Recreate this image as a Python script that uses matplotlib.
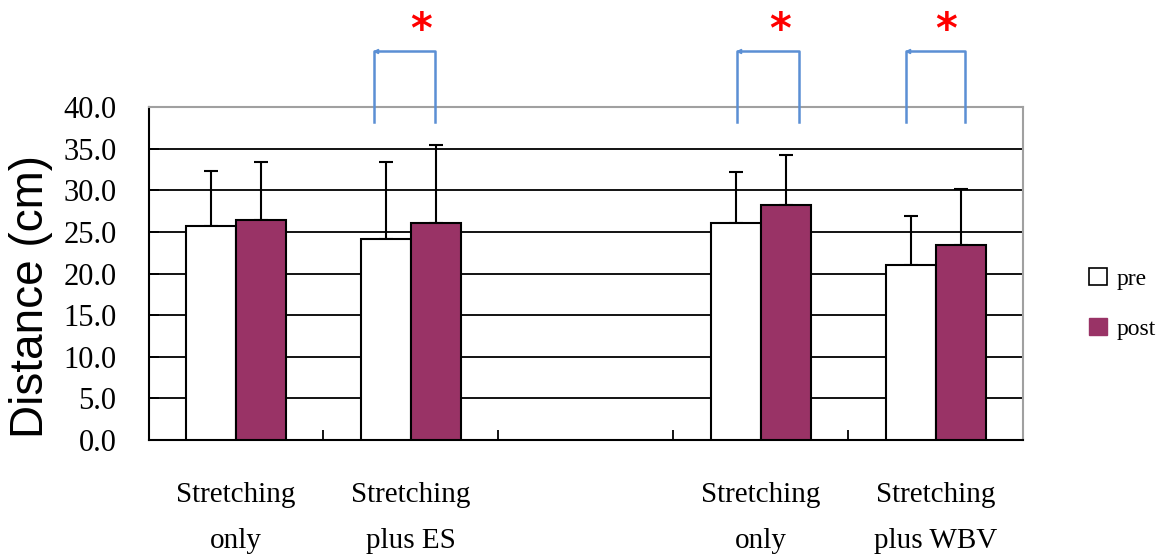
import numpy as np
import matplotlib
matplotlib.use("Agg")
import matplotlib.pyplot as plt
from matplotlib.patches import Patch

# Group labels (the third slot is an intentional gap between the two studies)
categories = ["Stretching\nonly", "Stretching\nplus ES", "", "Stretching\nonly", "Stretching\nplus WBV"]
pre_mean = [25.7, 24.2, np.nan, 26.1, 21.1]
post_mean = [26.4, 26.1, np.nan, 28.3, 23.5]
pre_sd = [6.7, 9.2, np.nan, 6.1, 5.8]
post_sd = [7.0, 9.4, np.nan, 6.0, 6.7]
series_names = ["pre", "post"]
y_ticks = [0, 5, 10, 15, 20, 25, 30, 35, 40]

POST_COLOR = "#993366"
BRACKET_COLOR = "#5b8fd4"

fig = plt.figure(figsize=(11.64, 5.54), dpi=100)
ax = fig.add_axes([148.5 / 1164, 114 / 554, 874.5 / 1164, 332.7 / 554])

x = np.arange(len(categories))
w = 0.286
valid = ~np.isnan(np.array(pre_mean))
xv = x[valid]
pre = np.array(pre_mean)[valid]
post = np.array(post_mean)[valid]
pre_e = np.array(pre_sd)[valid]
post_e = np.array(post_sd)[valid]

ax.set_axisbelow(True)
ax.yaxis.grid(True, color="black", linewidth=1.3)

ax.bar(xv - w / 2, pre, w, color="white", edgecolor="black", linewidth=1.5, zorder=3)
ax.bar(xv + w / 2, post, w, color=POST_COLOR, edgecolor="black", linewidth=1.5, zorder=3)
ax.errorbar(xv - w / 2, pre, yerr=[np.zeros_like(pre_e), pre_e], fmt="none",
            ecolor="black", elinewidth=1.5, capsize=5, capthick=1.5, zorder=2)
ax.errorbar(xv + w / 2, post, yerr=[np.zeros_like(post_e), post_e], fmt="none",
            ecolor="black", elinewidth=1.5, capsize=5, capthick=1.5, zorder=2)

ax.set_xlim(-0.5, len(categories) - 0.5)
ax.set_ylim(0, 40)
ax.set_yticks(y_ticks)
ax.set_yticklabels([f"{v:.1f}" for v in y_ticks], family="Liberation Serif", fontsize=22)
ax.tick_params(axis="y", direction="in", length=7, width=1.3, pad=23)

ax.set_xticks(x)
ax.set_xticklabels(categories, family="Liberation Serif", fontsize=21, linespacing=2.0)
ax.tick_params(axis="x", which="major", length=0, pad=30)
ax.set_xticks(x[:-1] + 0.5, minor=True)
ax.tick_params(axis="x", which="minor", direction="in", length=7, width=1.3)

for side in ("top", "right"):
    ax.spines[side].set_color("#a0a0a0")
    ax.spines[side].set_linewidth(1.5)
for side in ("left", "bottom"):
    ax.spines[side].set_color("black")
    ax.spines[side].set_linewidth(1.5)

fig.text(31 / 1164, (554 - 296) / 554, "Distance (cm)", rotation=90,
         family="Liberation Sans", fontsize=33, ha="center", va="center")

# Significance brackets above the axes
brackets = [(0.791, 1.138, 1.061), (2.866, 3.221, 3.11), (3.829, 4.168, 4.06)]
for x0, x1, xs in brackets:
    ax.plot([x0, x0, x1, x1], [38.2, 46.8, 46.8, 38.2], color=BRACKET_COLOR,
            linewidth=1.8, clip_on=False, zorder=5)
    ax.plot([x0 + 0.012], [46.8], marker="<", markersize=3, color=BRACKET_COLOR,
            clip_on=False, zorder=5)
    ax.text(xs, 46.6, "*", color="red", fontsize=30, fontweight="bold",
            ha="center", va="bottom", family="DejaVu Sans", clip_on=False)

handles = [Patch(facecolor="white", edgecolor="black", linewidth=1.2),
           Patch(facecolor=POST_COLOR, edgecolor=POST_COLOR)]
fig.legend(handles, series_names, loc="center left",
           bbox_to_anchor=(1068 / 1164, (554 - 304) / 554), frameon=False,
           prop={"family": "Liberation Serif", "size": 17},
           handlelength=0.75, handleheight=0.75, handletextpad=0.4, labelspacing=1.2)

fig.savefig("out.png", dpi=100)
